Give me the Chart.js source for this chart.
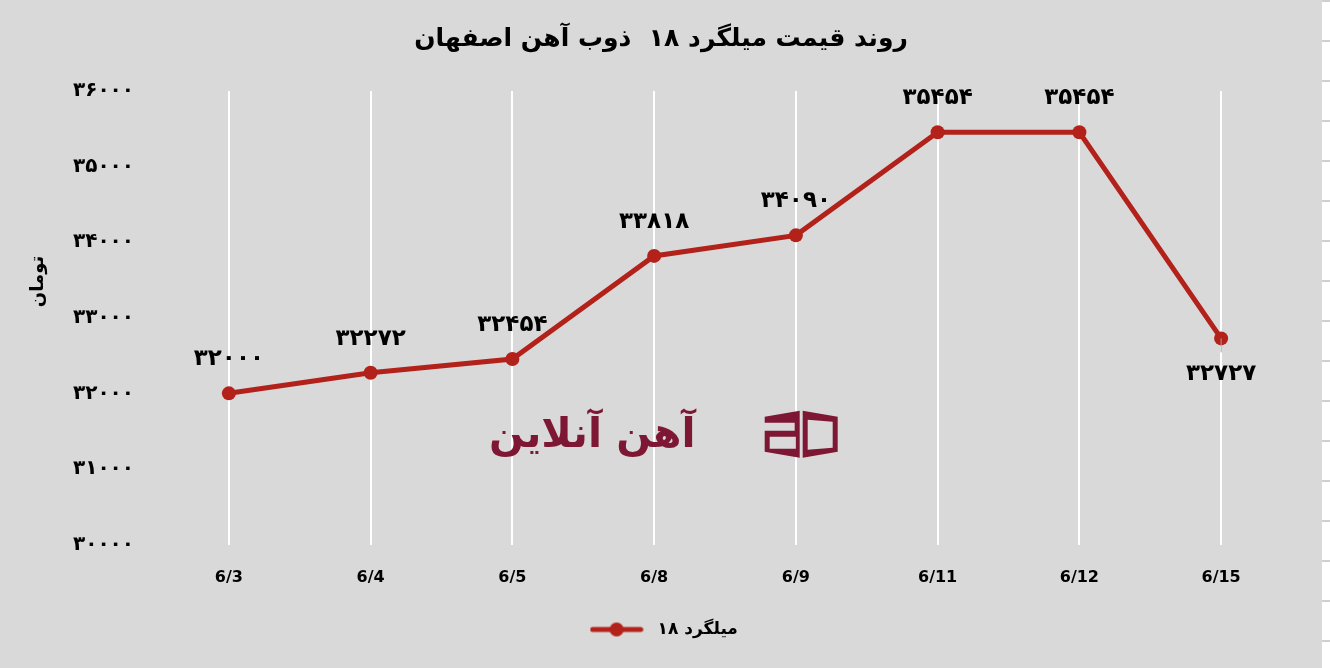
<!DOCTYPE html>
<html>
<head>
<meta charset="utf-8">
<script src="https://cdn.jsdelivr.net/npm/chart.js@4.4.0/dist/chart.umd.min.js"></script>
<style>
  html, body { margin: 0; padding: 0; background: #d9d9d9; overflow: hidden; }
  #wrap { position: absolute; left: 0; top: 0; width: 1322px; height: 668px; }
  #sheet {
    position: absolute; left: 1322px; top: 0; width: 8px; height: 668px;
    background: repeating-linear-gradient(to bottom, #d0d0d0 0px, #d0d0d0 2px, #ffffff 2px, #ffffff 40px);
  }
</style>
</head>
<body>
<div id="wrap"><canvas id="chart" width="1322" height="668"></canvas></div>
<div id="sheet"></div>
<script>
/* ---------- Data ---------- */
const dates = ["6/3", "6/4", "6/5", "6/8", "6/9", "6/11", "6/12", "6/15"];
const prices = [32000, 32272, 32454, 33818, 34090, 35454, 35454, 32727];
const labelSide = ["top", "top", "top", "top", "top", "top", "top", "bottom"];
const yMin = 30000;
const yMax = 36000;
const yStep = 1000;

const titleText = "روند قیمت میلگرد ۱۸  ذوب آهن اصفهان";
const seriesName = "میلگرد ۱۸";
const yTitle = "تومان";
const watermark = "آهن آنلاین";

const RED = "#b2221a";
const MAROON = "#7d1733";
const FONT = "'DejaVu Sans', sans-serif";

/* ---------- Helpers ---------- */
function toFa(n) {
  return String(n).replace(/\d/g, (d) => "۰۱۲۳۴۵۶۷۸۹"[d]);
}

// legend marker: line with a dot
function legendMarker() {
  const c = document.createElement("canvas");
  c.width = 54;
  c.height = 16;
  const g = c.getContext("2d");
  g.strokeStyle = RED;
  g.lineWidth = 5;
  g.lineCap = "round";
  g.beginPath();
  g.moveTo(3, 8);
  g.lineTo(51, 8);
  g.stroke();
  g.fillStyle = RED;
  g.beginPath();
  g.arc(27, 8, 7, 0, Math.PI * 2);
  g.fill();
  return c;
}

/* ---------- Plugins ---------- */
const decorPlugin = {
  id: "decor",
  beforeDatasetsDraw(chart) {
    const { ctx, chartArea: a } = chart;
    const w = a.right - a.left;
    const h = a.bottom - a.top;
    ctx.save();
    // watermark text
    ctx.fillStyle = MAROON;
    ctx.font = "bold 41px " + FONT;
    ctx.textAlign = "center";
    ctx.textBaseline = "middle";
    ctx.fillText(watermark, a.left + w * 0.383, a.top + h * 0.762);
    // watermark logo (two faces of a box)
    const lx = a.left + w * 0.535;
    const ly = a.top + h * 0.705;
    ctx.beginPath();
    ctx.moveTo(lx, ly + 6); ctx.lineTo(lx + 35, ly); ctx.lineTo(lx + 35, ly + 47); ctx.lineTo(lx, ly + 41); ctx.closePath();
    ctx.rect(lx + 5, ly + 26, 26, 12);
    ctx.moveTo(lx, ly + 12); ctx.lineTo(lx + 30, ly + 12); ctx.lineTo(lx + 30, ly + 20); ctx.lineTo(lx, ly + 20); ctx.closePath();
    ctx.fill("evenodd");
    ctx.beginPath();
    ctx.moveTo(lx + 38, ly); ctx.lineTo(lx + 73, ly + 6); ctx.lineTo(lx + 73, ly + 41); ctx.lineTo(lx + 38, ly + 47); ctx.closePath();
    ctx.moveTo(lx + 43, ly + 9); ctx.lineTo(lx + 68, ly + 11); ctx.lineTo(lx + 68, ly + 37); ctx.lineTo(lx + 43, ly + 39); ctx.closePath();
    ctx.fill("evenodd");
    ctx.restore();
  },
  afterDatasetsDraw(chart) {
    const { ctx, chartArea: a } = chart;
    const meta = chart.getDatasetMeta(0);
    ctx.save();
    ctx.fillStyle = "#000";
    ctx.font = "bold 23px " + FONT;
    ctx.textAlign = "center";
    ctx.textBaseline = "middle";
    meta.data.forEach((pt, i) => {
      const dy = labelSide[i] === "bottom" ? 36 : -34;
      ctx.fillText(toFa(prices[i]), pt.x, pt.y + dy);
    });
    // small leader under the bottom label point
    ctx.strokeStyle = "#a0a0a0";
    ctx.lineWidth = 1;
    meta.data.forEach((pt, i) => {
      if (labelSide[i] !== "bottom") return;
      ctx.beginPath();
      ctx.moveTo(pt.x, pt.y);
      ctx.lineTo(pt.x, pt.y + 14);
      ctx.stroke();
    });
    // y axis title
    ctx.translate(38, a.top + (a.bottom - a.top) * 0.42);
    ctx.rotate(-Math.PI / 2);
    ctx.font = "bold 18px " + FONT;
    ctx.fillText(yTitle, 0, 0);
    ctx.restore();
  },
};

/* ---------- Chart ---------- */
const ctx = document.getElementById("chart").getContext("2d");
new Chart(ctx, {
  type: "line",
  data: {
    labels: dates,
    datasets: [
      {
        label: seriesName,
        data: prices,
        borderColor: RED,
        backgroundColor: RED,
        borderWidth: 5,
        pointRadius: 7,
        pointBackgroundColor: RED,
        pointBorderWidth: 0,
        tension: 0,
      },
    ],
  },
  options: {
    responsive: false,
    animation: false,
    devicePixelRatio: 1,
    layout: { padding: { left: 0, right: 0, top: 0, bottom: 20 } },
    plugins: {
      tooltip: { enabled: false },
      title: {
        display: true,
        text: titleText,
        color: "#000",
        font: { family: FONT, size: 25, weight: "bold" },
        padding: { top: 24.6, bottom: 36.4 },
      },
      legend: {
        position: "bottom",
        labels: {
          color: "#000",
          font: { family: FONT, size: 17, weight: "bold" },
          usePointStyle: true,
          pointStyle: legendMarker(),
          pointStyleWidth: 65,
          padding: 10,
        },
      },
    },
    scales: {
      x: {
        offset: true,
        grid: { color: "#ffffff", lineWidth: 2, drawTicks: false },
        border: { display: false },
        ticks: {
          color: "#000",
          font: { family: FONT, size: 16, weight: "bold" },
          padding: 24,
        },
        afterFit: (s) => { s.height = 66.5; },
      },
      y: {
        min: yMin,
        max: yMax,
        grid: { display: false, drawTicks: false },
        border: { display: false },
        ticks: {
          stepSize: yStep,
          color: "#000",
          font: { family: FONT, size: 20, weight: "bold" },
          padding: 24,
          callback: (v) => toFa(v),
        },
        afterFit: (s) => { s.width = 158; },
      },
      yRight: {
        type: "linear",
        position: "right",
        display: true,
        grid: { display: false, drawTicks: false },
        border: { display: false },
        ticks: { display: false },
        afterFit: (s) => { s.width = 30; },
      },
    },
  },
  plugins: [decorPlugin],
});
</script>
</body>
</html>
